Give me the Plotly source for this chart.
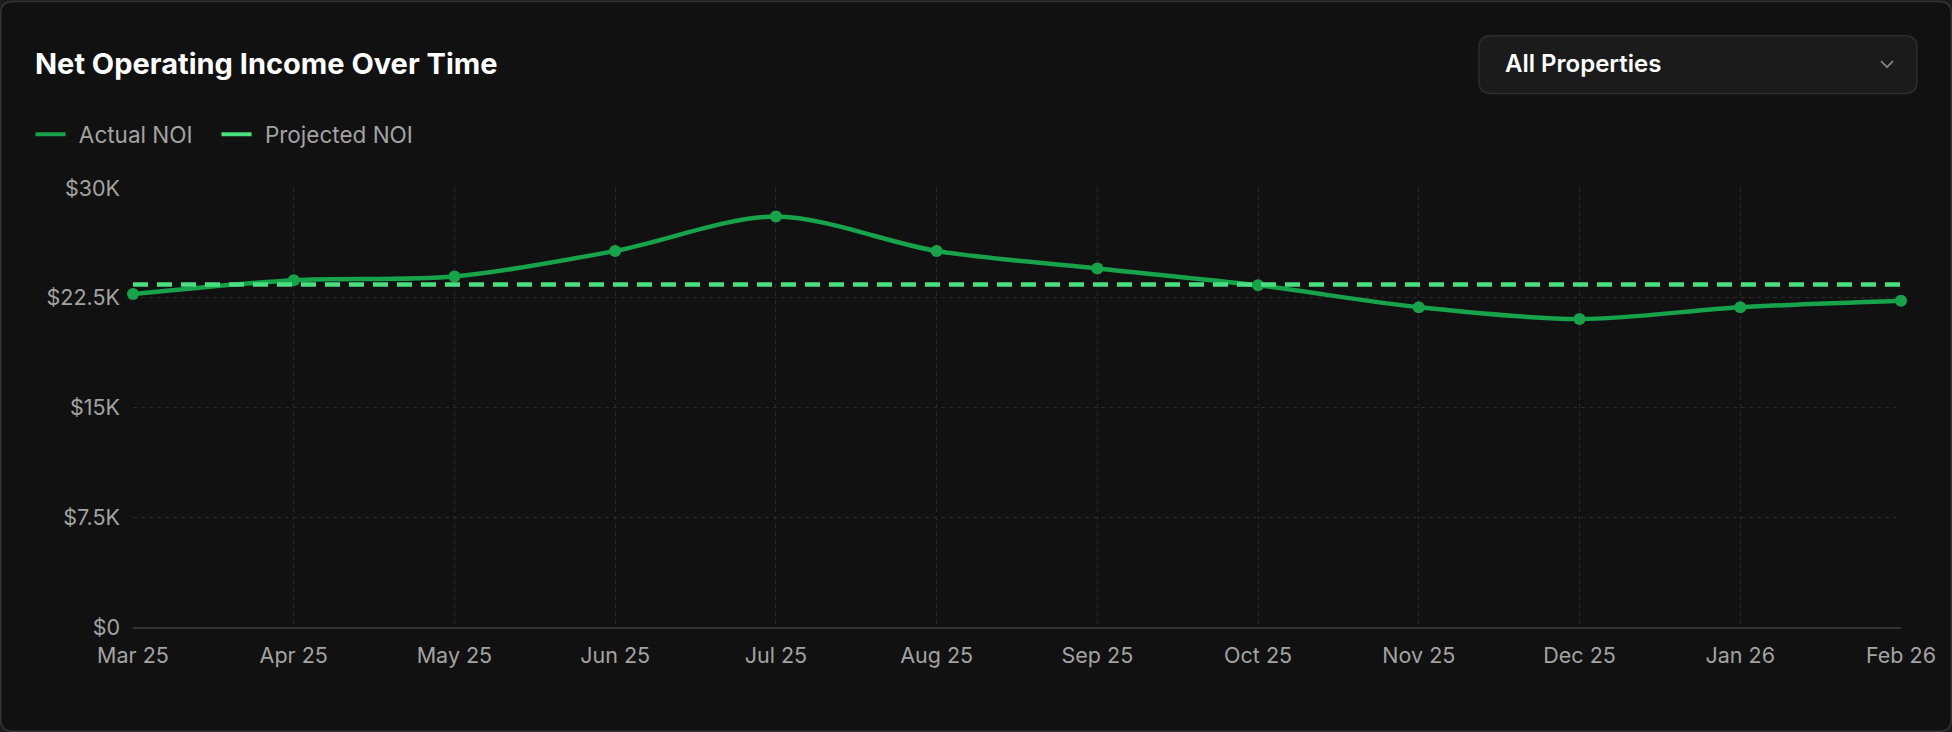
import plotly.graph_objects as go

# ---- data ----
months = ["Mar 25", "Apr 25", "May 25", "Jun 25", "Jul 25", "Aug 25",
          "Sep 25", "Oct 25", "Nov 25", "Dec 25", "Jan 26", "Feb 26"]
actual_noi = [22750, 23700, 23950, 25700, 28050, 25700,
              24500, 23350, 21850, 21050, 21850, 22300]
projected_noi = [23400, 23400, 23400, 23400, 23400, 23400,
                 23400, 23400, 23400, 23400, 23400, 23400]
y_tick_vals = [0, 7500, 15000, 22500, 30000]
y_tick_text = ["$0", "$7.5K", "$15K", "$22.5K", "$30K"]

# ---- geometry (pixels) ----
W, H = 1952, 732
L, R, T, B = 133, 51, 187.5, 105
PW, PH = W - L - R, H - T - B

def px(x):
    return (x - L) / PW

def py(y):
    return (H - B - y) / PH

def rrect(x0, y0, x1, y1, r):
    return (f"M{px(x0+r)},{py(y0)} L{px(x1-r)},{py(y0)} Q{px(x1)},{py(y0)} {px(x1)},{py(y0+r)} "
            f"L{px(x1)},{py(y1-r)} Q{px(x1)},{py(y1)} {px(x1-r)},{py(y1)} "
            f"L{px(x0+r)},{py(y1)} Q{px(x0)},{py(y1)} {px(x0)},{py(y1-r)} "
            f"L{px(x0)},{py(y0+r)} Q{px(x0)},{py(y0)} {px(x0+r)},{py(y0)} Z")

FONT = "Inter"
GREEN = "#16a34a"
LIGHT_GREEN = "#4ade80"
TICK_COLOR = "#a3a3a3"
GRID = "#2a2a2a"
LW = 4.5

fig = go.Figure()
fig.add_trace(go.Scatter(
    x=months, y=actual_noi, name="Actual NOI", mode="lines+markers",
    line=dict(color=GREEN, width=LW, shape="spline", smoothing=0.9),
    marker=dict(size=12, color=GREEN), cliponaxis=False,
    showlegend=False, legendgroup="act",
))
fig.add_trace(go.Scatter(
    x=months, y=projected_noi, name="Projected NOI", mode="lines",
    line=dict(color=LIGHT_GREEN, width=LW, dash="15px,9px"),
    cliponaxis=False, showlegend=False, legendgroup="proj",
))
# legend swatches (solid short lines, as in the reference)
fig.add_trace(go.Scatter(
    x=[None], y=[None], name="\u00a0\u200aActual NOI\u00a0\u00a0\u00a0", mode="lines",
    line=dict(color=GREEN, width=4), legendgroup="act",
))
fig.add_trace(go.Scatter(
    x=[None], y=[None], name="\u00a0\u200aProjected NOI", mode="lines",
    line=dict(color=LIGHT_GREEN, width=4), legendgroup="proj",
))

shapes = [
    dict(type="path", xref="paper", yref="paper", layer="below",
         path=rrect(0.75, 0.75, W - 0.75, H - 0.75, 12),
         fillcolor="#111111", line=dict(color="#353535", width=1.5)),
    dict(type="path", xref="paper", yref="paper", layer="above",
         path=rrect(1479, 35, 1917, 93, 12),
         fillcolor="#1b1b1b", line=dict(color="#2e2e2e", width=1.5)),
    dict(type="path", xref="paper", yref="paper", layer="above",
         path=f"M{px(1881)},{py(60.5)} L{px(1887)},{py(66.5)} L{px(1893)},{py(60.5)}",
         line=dict(color="#8a8a8a", width=1.6)),
]

annotations = [
    dict(text="<b>Net Operating Income Over Time</b>", xref="paper", yref="paper",
         x=px(33), y=py(63), xanchor="left", yanchor="middle", showarrow=False,
         font=dict(family=FONT, size=29, color="#ffffff")),
    dict(text="All Properties", xref="paper", yref="paper",
         x=px(1503), y=py(63), xanchor="left", yanchor="middle", showarrow=False,
         font=dict(family=FONT, size=24, color="#ffffff", weight=600)),
]

fig.update_layout(
    width=W, height=H,
    margin=dict(l=L, r=R, t=T, b=B, pad=0),
    paper_bgcolor="#1c1c1c",
    plot_bgcolor="rgba(0,0,0,0)",
    font=dict(family=FONT, color=TICK_COLOR, size=21),
    showlegend=True,
    legend=dict(orientation="h", x=px(30.5), y=py(134), xanchor="left", yanchor="middle",
                font=dict(family=FONT, size=22.5, color=TICK_COLOR),
                bgcolor="rgba(0,0,0,0)", borderwidth=0, itemwidth=30),
    xaxis=dict(type="category", range=[0, len(months) - 1],
               showgrid=True, gridcolor=GRID, griddash="4px,4px", gridwidth=1,
               showline=True, linecolor="#333333", linewidth=2,
               zeroline=False, ticks="", ticklabelstandoff=8,
               tickfont=dict(family=FONT, size=21.5, color=TICK_COLOR)),
    yaxis=dict(range=[0, 30000], tickvals=y_tick_vals, ticktext=y_tick_text,
               showgrid=True, gridcolor=GRID, griddash="4px,4px", gridwidth=1,
               showline=False, zeroline=False, ticks="", ticklabelstandoff=12,
               tickfont=dict(family=FONT, size=21.5, color=TICK_COLOR)),
    shapes=shapes,
    annotations=annotations,
    hovermode=False,
)

fig.write_html("out.html", config={"displayModeBar": False},
               post_script="document.body.style.margin='0';document.body.style.overflow='hidden';")
